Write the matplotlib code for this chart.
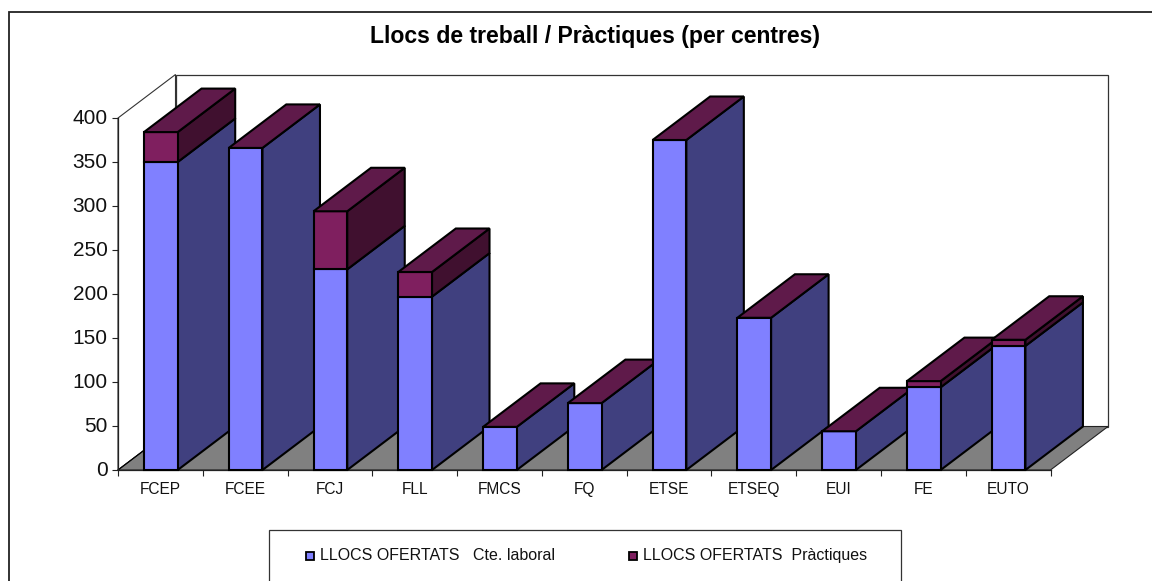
import matplotlib
matplotlib.use("Agg")
import matplotlib.pyplot as plt
from matplotlib.patches import Polygon, Rectangle

categories = ["FCEP", "FCEE", "FCJ", "FLL", "FMCS", "FQ", "ETSE", "ETSEQ", "EUI", "FE", "EUTO"]
laboral = [350, 366, 228, 197, 49, 76, 375, 173, 44, 94, 141]
practiques = [34, 0, 66, 28, 0, 0, 0, 0, 0, 7, 7]
yticks = [0, 50, 100, 150, 200, 250, 300, 350, 400]
legend_labels = ["LLOCS OFERTATS   Cte. laboral", "LLOCS OFERTATS  Pràctiques"]
title = "Llocs de treball / Pràctiques (per centres)"

W, H = 1152, 581
plt.rcParams["font.family"] = ["Liberation Sans", "DejaVu Sans"]
fig = plt.figure(figsize=(W / 100, H / 100), dpi=100)

# chart frame: only its left and top edges fall inside the picture
fig.add_artist(Rectangle((8.5 / W, -0.1), 1.2, 1.1 - 12.5 / H, transform=fig.transFigure,
                         fill=False, ec="#222222", lw=1.3))

L, R, T, B = 118.0, 1050.5, 118, 470
ax = fig.add_axes([L / W, 1 - B / H, (R - L) / W, (B - T) / H])
ax.set_xlim(0, len(categories))
ax.set_ylim(0, 400)
ax.patch.set_visible(False)
for s in ["top", "right"]:
    ax.spines[s].set_visible(False)
for s in ["left", "bottom"]:
    ax.spines[s].set_linewidth(0.9)
    ax.spines[s].set_color("#222222")
    ax.spines[s].set_zorder(1)

# oblique depth, in axis units
n = len(categories)
dx = 57.5 / ((R - L) / n)
dy = 43.5 / ((B - T) / 400)

def poly(pts, fc, ec="black", lw=1.5, z=3):
    ax.add_patch(Polygon(pts, closed=True, fc=fc, ec=ec, lw=lw, zorder=z, clip_on=False, joinstyle="miter"))

# floor and walls
poly([(0, 0), (n, 0), (n + dx, dy), (dx, dy)], "#808080", ec="#222222", lw=0.8, z=0.5)
poly([(dx, dy), (n + dx, dy), (n + dx, 400 + dy), (dx, 400 + dy)], "white", ec="#333333", lw=0.9, z=0.4)
poly([(0, 0), (dx, dy), (dx, 400 + dy), (0, 400)], "white", ec="#333333", lw=0.8, z=0.4)
ax.plot([0, dx], [0, dy], color="black", lw=0.8, zorder=0.6, clip_on=False)

BLUE, BLUE_SIDE = "#8080FF", "#40407F"
PURP, PURP_SIDE, PURP_TOP = "#7F1F5F", "#40102F", "#5F1A4A"
offset = 26.0 / ((R - L) / n)
bw = 33.7 / ((R - L) / n)

for i in range(n):
    z = 3 + i
    x0, x1 = i + offset, i + offset + bw
    a, b = laboral[i], laboral[i] + practiques[i]
    poly([(x1, 0), (x1 + dx, dy), (x1 + dx, a + dy), (x1, a)], BLUE_SIDE, z=z)
    poly([(x0, 0), (x1, 0), (x1, a), (x0, a)], BLUE, z=z)
    if practiques[i] > 0:
        poly([(x1, a), (x1 + dx, a + dy), (x1 + dx, b + dy), (x1, b)], PURP_SIDE, z=z)
        poly([(x0, a), (x1, a), (x1, b), (x0, b)], PURP, z=z)
    poly([(x0, b), (x1, b), (x1 + dx, b + dy), (x0 + dx, b + dy)], PURP_TOP, z=z)

ax.set_yticks(yticks)
ax.set_yticklabels([str(v) for v in yticks], fontsize=15, color="#111111")
ax.tick_params(axis="y", length=4.5, width=0.8, pad=3, color="#222222")
for t in ax.get_yticklabels():
    t.set_verticalalignment("center")
ax.set_xticks(range(n + 1))
ax.set_xticklabels([""] * (n + 1))
ax.tick_params(axis="x", length=4.3, width=0.8, color="#222222")
for i, c in enumerate(categories):
    ax.annotate(c, (i + 0.5, 0), xytext=(0, -14), textcoords="offset points", ha="center", va="center",
                fontsize=11.2, color="#111111", annotation_clip=False)

def px(x, y):
    return x / W, 1 - y / H

fig.text(*px(595, 36.5), title, ha="center", va="center", fontsize=16.6, fontweight="bold", color="black")

# legend
fig.add_artist(Rectangle(px(268.5, 582), (900.5 - 268.5) / W, (582 - 529.5) / H, transform=fig.transFigure,
                         fill=True, fc="white", ec="#333333", lw=0.9))
for sx, tx, col, lab in [(306, 320, BLUE, legend_labels[0]), (629.3, 643, PURP, legend_labels[1])]:
    fig.add_artist(Rectangle(px(sx, 559.5), 7.8 / W, 8 / H, transform=fig.transFigure, fc=col, ec="black", lw=1.3))
    fig.text(*px(tx, 555.3), lab, ha="left", va="center", fontsize=11.5, color="#111111")

fig.savefig("out.png", dpi=100, facecolor="white")
